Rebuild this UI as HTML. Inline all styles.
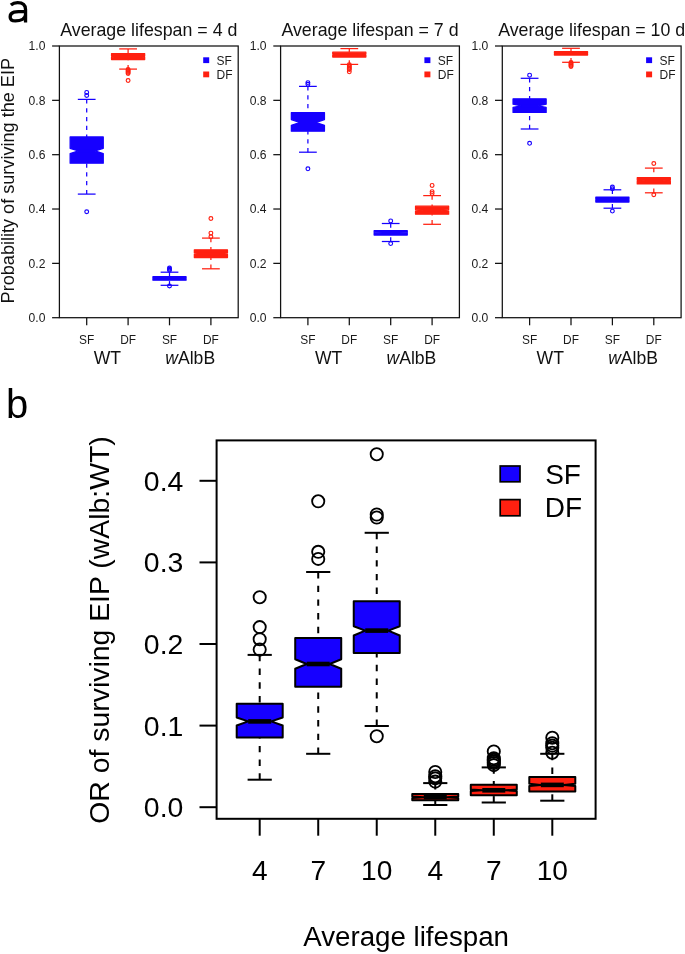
<!DOCTYPE html>
<html><head><meta charset="utf-8"><style>
html,body{margin:0;padding:0;background:#fff;}
svg{display:block;font-family:"Liberation Sans", sans-serif;will-change:transform;}
</style></head><body>
<svg width="685" height="954" viewBox="0 0 685 954">
<rect width="685" height="954" fill="#fff"/>
<path d="M10.9 4.9 C12.6 3.4 14.9 2.55 17.6 2.55 C22.7 2.55 25.55 4.9 25.55 9.5 L25.55 22.5 M25.55 11.3 C20.3 11.3 16.6 11.5 14.0 12.2 C11.2 13.0 10.15 14.9 10.15 16.9 C10.15 19.5 12.3 20.85 15.4 20.85 C20.4 20.85 25.55 18.8 25.55 14.2" fill="none" stroke="#000" stroke-width="3.3"/>
<line x1="86.70" y1="99.40" x2="86.70" y2="136.90" stroke="rgb(22,0,255)" stroke-width="1.25" stroke-dasharray="4.2 4.6"/>
<line x1="86.70" y1="194.10" x2="86.70" y2="163.20" stroke="rgb(22,0,255)" stroke-width="1.25" stroke-dasharray="4.2 4.6"/>
<line x1="77.82" y1="99.40" x2="95.58" y2="99.40" stroke="rgb(22,0,255)" stroke-width="1.25" />
<line x1="77.82" y1="194.10" x2="95.58" y2="194.10" stroke="rgb(22,0,255)" stroke-width="1.25" />
<polygon points="70.14,163.20 103.26,163.20 103.26,153.60 94.98,150.90 103.26,148.30 103.26,136.90 70.14,136.90 70.14,148.30 78.42,150.90 70.14,153.60" fill="rgb(22,0,255)" stroke="rgb(22,0,255)" stroke-width="1.25" stroke-linejoin="round"/>
<line x1="78.42" y1="150.90" x2="94.98" y2="150.90" stroke="rgb(22,0,255)" stroke-width="3.0" />
<circle cx="86.70" cy="92.40" r="1.9" fill="none" stroke="rgb(22,0,255)" stroke-width="1.15"/>
<circle cx="86.70" cy="95.50" r="1.9" fill="none" stroke="rgb(22,0,255)" stroke-width="1.15"/>
<circle cx="86.70" cy="211.70" r="1.9" fill="none" stroke="rgb(22,0,255)" stroke-width="1.15"/>
<line x1="128.10" y1="48.90" x2="128.10" y2="53.60" stroke="rgb(255,32,16)" stroke-width="1.25" stroke-dasharray="4.2 4.6"/>
<line x1="128.10" y1="69.10" x2="128.10" y2="59.60" stroke="rgb(255,32,16)" stroke-width="1.25" stroke-dasharray="4.2 4.6"/>
<line x1="119.22" y1="48.90" x2="136.98" y2="48.90" stroke="rgb(255,32,16)" stroke-width="1.25" />
<line x1="119.22" y1="69.10" x2="136.98" y2="69.10" stroke="rgb(255,32,16)" stroke-width="1.25" />
<polygon points="111.54,59.60 144.66,59.60 144.66,57.20 136.38,56.60 144.66,56.00 144.66,53.60 111.54,53.60 111.54,56.00 119.82,56.60 111.54,57.20" fill="rgb(255,32,16)" stroke="rgb(255,32,16)" stroke-width="1.25" stroke-linejoin="round"/>
<line x1="119.82" y1="56.60" x2="136.38" y2="56.60" stroke="rgb(255,32,16)" stroke-width="3.0" />
<circle cx="128.10" cy="69.50" r="1.9" fill="none" stroke="rgb(255,32,16)" stroke-width="1.15"/>
<circle cx="128.10" cy="70.50" r="1.9" fill="none" stroke="rgb(255,32,16)" stroke-width="1.15"/>
<circle cx="128.10" cy="71.50" r="1.9" fill="none" stroke="rgb(255,32,16)" stroke-width="1.15"/>
<circle cx="128.10" cy="72.50" r="1.9" fill="none" stroke="rgb(255,32,16)" stroke-width="1.15"/>
<circle cx="128.10" cy="73.60" r="1.9" fill="none" stroke="rgb(255,32,16)" stroke-width="1.15"/>
<circle cx="128.10" cy="80.50" r="1.9" fill="none" stroke="rgb(255,32,16)" stroke-width="1.15"/>
<line x1="169.50" y1="272.20" x2="169.50" y2="276.70" stroke="rgb(22,0,255)" stroke-width="1.25" stroke-dasharray="4.2 4.6"/>
<line x1="169.50" y1="285.30" x2="169.50" y2="280.20" stroke="rgb(22,0,255)" stroke-width="1.25" stroke-dasharray="4.2 4.6"/>
<line x1="160.62" y1="272.20" x2="178.38" y2="272.20" stroke="rgb(22,0,255)" stroke-width="1.25" />
<line x1="160.62" y1="285.30" x2="178.38" y2="285.30" stroke="rgb(22,0,255)" stroke-width="1.25" />
<polygon points="152.94,280.20 186.06,280.20 186.06,278.80 177.78,278.50 186.06,278.20 186.06,276.70 152.94,276.70 152.94,278.20 161.22,278.50 152.94,278.80" fill="rgb(22,0,255)" stroke="rgb(22,0,255)" stroke-width="1.25" stroke-linejoin="round"/>
<line x1="161.22" y1="278.50" x2="177.78" y2="278.50" stroke="rgb(22,0,255)" stroke-width="3.0" />
<circle cx="169.50" cy="268.00" r="1.9" fill="none" stroke="rgb(22,0,255)" stroke-width="1.15"/>
<circle cx="169.50" cy="269.30" r="1.9" fill="none" stroke="rgb(22,0,255)" stroke-width="1.15"/>
<circle cx="169.50" cy="270.30" r="1.9" fill="none" stroke="rgb(22,0,255)" stroke-width="1.15"/>
<circle cx="169.50" cy="286.00" r="1.9" fill="none" stroke="rgb(22,0,255)" stroke-width="1.15"/>
<line x1="210.90" y1="238.10" x2="210.90" y2="249.80" stroke="rgb(255,32,16)" stroke-width="1.25" stroke-dasharray="4.2 4.6"/>
<line x1="210.90" y1="268.80" x2="210.90" y2="257.60" stroke="rgb(255,32,16)" stroke-width="1.25" stroke-dasharray="4.2 4.6"/>
<line x1="202.02" y1="238.10" x2="219.78" y2="238.10" stroke="rgb(255,32,16)" stroke-width="1.25" />
<line x1="202.02" y1="268.80" x2="219.78" y2="268.80" stroke="rgb(255,32,16)" stroke-width="1.25" />
<polygon points="194.34,257.60 227.46,257.60 227.46,254.30 219.18,253.60 227.46,252.90 227.46,249.80 194.34,249.80 194.34,252.90 202.62,253.60 194.34,254.30" fill="rgb(255,32,16)" stroke="rgb(255,32,16)" stroke-width="1.25" stroke-linejoin="round"/>
<line x1="202.62" y1="253.60" x2="219.18" y2="253.60" stroke="rgb(255,32,16)" stroke-width="3.0" />
<circle cx="210.90" cy="218.50" r="1.9" fill="none" stroke="rgb(255,32,16)" stroke-width="1.15"/>
<circle cx="210.90" cy="233.10" r="1.9" fill="none" stroke="rgb(255,32,16)" stroke-width="1.15"/>
<circle cx="210.90" cy="236.70" r="1.9" fill="none" stroke="rgb(255,32,16)" stroke-width="1.15"/>
<rect x="59.40" y="46.00" width="178.80" height="271.70" fill="none" stroke="#111" stroke-width="1.25"/>
<line x1="52.10" y1="317.70" x2="59.40" y2="317.70" stroke="#111" stroke-width="1.25" />
<text x="45.40" y="322.10" font-size="12.1" text-anchor="end" fill="#1a1a1a" >0.0</text>
<line x1="52.10" y1="263.36" x2="59.40" y2="263.36" stroke="#111" stroke-width="1.25" />
<text x="45.40" y="267.76" font-size="12.1" text-anchor="end" fill="#1a1a1a" >0.2</text>
<line x1="52.10" y1="209.02" x2="59.40" y2="209.02" stroke="#111" stroke-width="1.25" />
<text x="45.40" y="213.42" font-size="12.1" text-anchor="end" fill="#1a1a1a" >0.4</text>
<line x1="52.10" y1="154.68" x2="59.40" y2="154.68" stroke="#111" stroke-width="1.25" />
<text x="45.40" y="159.08" font-size="12.1" text-anchor="end" fill="#1a1a1a" >0.6</text>
<line x1="52.10" y1="100.34" x2="59.40" y2="100.34" stroke="#111" stroke-width="1.25" />
<text x="45.40" y="104.74" font-size="12.1" text-anchor="end" fill="#1a1a1a" >0.8</text>
<line x1="52.10" y1="46.00" x2="59.40" y2="46.00" stroke="#111" stroke-width="1.25" />
<text x="45.40" y="50.40" font-size="12.1" text-anchor="end" fill="#1a1a1a" >1.0</text>
<line x1="86.70" y1="317.70" x2="86.70" y2="325.30" stroke="#111" stroke-width="1.25" />
<text x="86.70" y="343.80" font-size="11.9" text-anchor="middle" fill="#1a1a1a" >SF</text>
<line x1="128.10" y1="317.70" x2="128.10" y2="325.30" stroke="#111" stroke-width="1.25" />
<text x="128.10" y="343.80" font-size="11.9" text-anchor="middle" fill="#1a1a1a" >DF</text>
<line x1="169.50" y1="317.70" x2="169.50" y2="325.30" stroke="#111" stroke-width="1.25" />
<text x="169.50" y="343.80" font-size="11.9" text-anchor="middle" fill="#1a1a1a" >SF</text>
<line x1="210.90" y1="317.70" x2="210.90" y2="325.30" stroke="#111" stroke-width="1.25" />
<text x="210.90" y="343.80" font-size="11.9" text-anchor="middle" fill="#1a1a1a" >DF</text>
<text x="107.40" y="363.80" font-size="17.6" text-anchor="middle" fill="#111" >WT</text>
<text x="190.20" y="363.80" font-size="17.6" text-anchor="middle" fill="#111" ><tspan font-style="italic">w</tspan>AlbB</text>
<text x="148.80" y="35.80" font-size="17.8" text-anchor="middle" fill="#111" >Average lifespan = 4 d</text>
<rect x="203.20" y="57.3" width="6" height="5.8" fill="rgb(22,0,255)"/>
<rect x="203.20" y="71.5" width="6" height="5.8" fill="rgb(255,32,16)"/>
<text x="216.60" y="64.60" font-size="12.0" text-anchor="start" fill="#1a1a1a" >SF</text>
<text x="216.60" y="78.80" font-size="12.0" text-anchor="start" fill="#1a1a1a" >DF</text>
<line x1="307.90" y1="86.40" x2="307.90" y2="112.60" stroke="rgb(22,0,255)" stroke-width="1.25" stroke-dasharray="4.2 4.6"/>
<line x1="307.90" y1="152.20" x2="307.90" y2="131.20" stroke="rgb(22,0,255)" stroke-width="1.25" stroke-dasharray="4.2 4.6"/>
<line x1="299.02" y1="86.40" x2="316.78" y2="86.40" stroke="rgb(22,0,255)" stroke-width="1.25" />
<line x1="299.02" y1="152.20" x2="316.78" y2="152.20" stroke="rgb(22,0,255)" stroke-width="1.25" />
<polygon points="291.34,131.20 324.46,131.20 324.46,125.30 316.18,122.50 324.46,119.60 324.46,112.60 291.34,112.60 291.34,119.60 299.62,122.50 291.34,125.30" fill="rgb(22,0,255)" stroke="rgb(22,0,255)" stroke-width="1.25" stroke-linejoin="round"/>
<line x1="299.62" y1="122.50" x2="316.18" y2="122.50" stroke="rgb(22,0,255)" stroke-width="3.0" />
<circle cx="307.90" cy="82.60" r="1.9" fill="none" stroke="rgb(22,0,255)" stroke-width="1.15"/>
<circle cx="307.90" cy="84.30" r="1.9" fill="none" stroke="rgb(22,0,255)" stroke-width="1.15"/>
<circle cx="307.90" cy="168.80" r="1.9" fill="none" stroke="rgb(22,0,255)" stroke-width="1.15"/>
<line x1="349.30" y1="48.60" x2="349.30" y2="52.20" stroke="rgb(255,32,16)" stroke-width="1.25" stroke-dasharray="4.2 4.6"/>
<line x1="349.30" y1="64.40" x2="349.30" y2="57.10" stroke="rgb(255,32,16)" stroke-width="1.25" stroke-dasharray="4.2 4.6"/>
<line x1="340.42" y1="48.60" x2="358.18" y2="48.60" stroke="rgb(255,32,16)" stroke-width="1.25" />
<line x1="340.42" y1="64.40" x2="358.18" y2="64.40" stroke="rgb(255,32,16)" stroke-width="1.25" />
<polygon points="332.74,57.10 365.86,57.10 365.86,55.10 357.58,54.60 365.86,54.10 365.86,52.20 332.74,52.20 332.74,54.10 341.02,54.60 332.74,55.10" fill="rgb(255,32,16)" stroke="rgb(255,32,16)" stroke-width="1.25" stroke-linejoin="round"/>
<line x1="341.02" y1="54.60" x2="357.58" y2="54.60" stroke="rgb(255,32,16)" stroke-width="3.0" />
<circle cx="349.30" cy="64.80" r="1.9" fill="none" stroke="rgb(255,32,16)" stroke-width="1.15"/>
<circle cx="349.30" cy="66.00" r="1.9" fill="none" stroke="rgb(255,32,16)" stroke-width="1.15"/>
<circle cx="349.30" cy="67.20" r="1.9" fill="none" stroke="rgb(255,32,16)" stroke-width="1.15"/>
<circle cx="349.30" cy="68.40" r="1.9" fill="none" stroke="rgb(255,32,16)" stroke-width="1.15"/>
<circle cx="349.30" cy="69.60" r="1.9" fill="none" stroke="rgb(255,32,16)" stroke-width="1.15"/>
<circle cx="349.30" cy="71.80" r="1.9" fill="none" stroke="rgb(255,32,16)" stroke-width="1.15"/>
<line x1="390.70" y1="223.50" x2="390.70" y2="230.70" stroke="rgb(22,0,255)" stroke-width="1.25" stroke-dasharray="4.2 4.6"/>
<line x1="390.70" y1="241.50" x2="390.70" y2="235.10" stroke="rgb(22,0,255)" stroke-width="1.25" stroke-dasharray="4.2 4.6"/>
<line x1="381.82" y1="223.50" x2="399.58" y2="223.50" stroke="rgb(22,0,255)" stroke-width="1.25" />
<line x1="381.82" y1="241.50" x2="399.58" y2="241.50" stroke="rgb(22,0,255)" stroke-width="1.25" />
<polygon points="374.14,235.10 407.26,235.10 407.26,233.30 398.98,232.90 407.26,232.50 407.26,230.70 374.14,230.70 374.14,232.50 382.42,232.90 374.14,233.30" fill="rgb(22,0,255)" stroke="rgb(22,0,255)" stroke-width="1.25" stroke-linejoin="round"/>
<line x1="382.42" y1="232.90" x2="398.98" y2="232.90" stroke="rgb(22,0,255)" stroke-width="3.0" />
<circle cx="390.70" cy="220.90" r="1.9" fill="none" stroke="rgb(22,0,255)" stroke-width="1.15"/>
<circle cx="390.70" cy="243.60" r="1.9" fill="none" stroke="rgb(22,0,255)" stroke-width="1.15"/>
<line x1="432.10" y1="195.60" x2="432.10" y2="206.20" stroke="rgb(255,32,16)" stroke-width="1.25" stroke-dasharray="4.2 4.6"/>
<line x1="432.10" y1="224.30" x2="432.10" y2="214.20" stroke="rgb(255,32,16)" stroke-width="1.25" stroke-dasharray="4.2 4.6"/>
<line x1="423.22" y1="195.60" x2="440.98" y2="195.60" stroke="rgb(255,32,16)" stroke-width="1.25" />
<line x1="423.22" y1="224.30" x2="440.98" y2="224.30" stroke="rgb(255,32,16)" stroke-width="1.25" />
<polygon points="415.54,214.20 448.66,214.20 448.66,210.90 440.38,210.20 448.66,209.50 448.66,206.20 415.54,206.20 415.54,209.50 423.82,210.20 415.54,210.90" fill="rgb(255,32,16)" stroke="rgb(255,32,16)" stroke-width="1.25" stroke-linejoin="round"/>
<line x1="423.82" y1="210.20" x2="440.38" y2="210.20" stroke="rgb(255,32,16)" stroke-width="3.0" />
<circle cx="432.10" cy="185.40" r="1.9" fill="none" stroke="rgb(255,32,16)" stroke-width="1.15"/>
<circle cx="432.10" cy="191.60" r="1.9" fill="none" stroke="rgb(255,32,16)" stroke-width="1.15"/>
<circle cx="432.10" cy="193.40" r="1.9" fill="none" stroke="rgb(255,32,16)" stroke-width="1.15"/>
<rect x="280.60" y="46.00" width="178.80" height="271.70" fill="none" stroke="#111" stroke-width="1.25"/>
<line x1="273.30" y1="317.70" x2="280.60" y2="317.70" stroke="#111" stroke-width="1.25" />
<text x="266.60" y="322.10" font-size="12.1" text-anchor="end" fill="#1a1a1a" >0.0</text>
<line x1="273.30" y1="263.36" x2="280.60" y2="263.36" stroke="#111" stroke-width="1.25" />
<text x="266.60" y="267.76" font-size="12.1" text-anchor="end" fill="#1a1a1a" >0.2</text>
<line x1="273.30" y1="209.02" x2="280.60" y2="209.02" stroke="#111" stroke-width="1.25" />
<text x="266.60" y="213.42" font-size="12.1" text-anchor="end" fill="#1a1a1a" >0.4</text>
<line x1="273.30" y1="154.68" x2="280.60" y2="154.68" stroke="#111" stroke-width="1.25" />
<text x="266.60" y="159.08" font-size="12.1" text-anchor="end" fill="#1a1a1a" >0.6</text>
<line x1="273.30" y1="100.34" x2="280.60" y2="100.34" stroke="#111" stroke-width="1.25" />
<text x="266.60" y="104.74" font-size="12.1" text-anchor="end" fill="#1a1a1a" >0.8</text>
<line x1="273.30" y1="46.00" x2="280.60" y2="46.00" stroke="#111" stroke-width="1.25" />
<text x="266.60" y="50.40" font-size="12.1" text-anchor="end" fill="#1a1a1a" >1.0</text>
<line x1="307.90" y1="317.70" x2="307.90" y2="325.30" stroke="#111" stroke-width="1.25" />
<text x="307.90" y="343.80" font-size="11.9" text-anchor="middle" fill="#1a1a1a" >SF</text>
<line x1="349.30" y1="317.70" x2="349.30" y2="325.30" stroke="#111" stroke-width="1.25" />
<text x="349.30" y="343.80" font-size="11.9" text-anchor="middle" fill="#1a1a1a" >DF</text>
<line x1="390.70" y1="317.70" x2="390.70" y2="325.30" stroke="#111" stroke-width="1.25" />
<text x="390.70" y="343.80" font-size="11.9" text-anchor="middle" fill="#1a1a1a" >SF</text>
<line x1="432.10" y1="317.70" x2="432.10" y2="325.30" stroke="#111" stroke-width="1.25" />
<text x="432.10" y="343.80" font-size="11.9" text-anchor="middle" fill="#1a1a1a" >DF</text>
<text x="328.60" y="363.80" font-size="17.6" text-anchor="middle" fill="#111" >WT</text>
<text x="411.40" y="363.80" font-size="17.6" text-anchor="middle" fill="#111" ><tspan font-style="italic">w</tspan>AlbB</text>
<text x="370.00" y="35.80" font-size="17.8" text-anchor="middle" fill="#111" >Average lifespan = 7 d</text>
<rect x="424.40" y="57.3" width="6" height="5.8" fill="rgb(22,0,255)"/>
<rect x="424.40" y="71.5" width="6" height="5.8" fill="rgb(255,32,16)"/>
<text x="437.80" y="64.60" font-size="12.0" text-anchor="start" fill="#1a1a1a" >SF</text>
<text x="437.80" y="78.80" font-size="12.0" text-anchor="start" fill="#1a1a1a" >DF</text>
<line x1="529.60" y1="78.30" x2="529.60" y2="98.80" stroke="rgb(22,0,255)" stroke-width="1.25" stroke-dasharray="4.2 4.6"/>
<line x1="529.60" y1="129.00" x2="529.60" y2="112.40" stroke="rgb(22,0,255)" stroke-width="1.25" stroke-dasharray="4.2 4.6"/>
<line x1="520.72" y1="78.30" x2="538.48" y2="78.30" stroke="rgb(22,0,255)" stroke-width="1.25" />
<line x1="520.72" y1="129.00" x2="538.48" y2="129.00" stroke="rgb(22,0,255)" stroke-width="1.25" />
<polygon points="513.04,112.40 546.16,112.40 546.16,107.40 537.88,105.80 546.16,104.20 546.16,98.80 513.04,98.80 513.04,104.20 521.32,105.80 513.04,107.40" fill="rgb(22,0,255)" stroke="rgb(22,0,255)" stroke-width="1.25" stroke-linejoin="round"/>
<line x1="521.32" y1="105.80" x2="537.88" y2="105.80" stroke="rgb(22,0,255)" stroke-width="3.0" />
<circle cx="529.60" cy="75.20" r="1.9" fill="none" stroke="rgb(22,0,255)" stroke-width="1.15"/>
<circle cx="529.60" cy="143.30" r="1.9" fill="none" stroke="rgb(22,0,255)" stroke-width="1.15"/>
<line x1="571.00" y1="48.30" x2="571.00" y2="51.70" stroke="rgb(255,32,16)" stroke-width="1.25" stroke-dasharray="4.2 4.6"/>
<line x1="571.00" y1="62.30" x2="571.00" y2="55.10" stroke="rgb(255,32,16)" stroke-width="1.25" stroke-dasharray="4.2 4.6"/>
<line x1="562.12" y1="48.30" x2="579.88" y2="48.30" stroke="rgb(255,32,16)" stroke-width="1.25" />
<line x1="562.12" y1="62.30" x2="579.88" y2="62.30" stroke="rgb(255,32,16)" stroke-width="1.25" />
<polygon points="554.44,55.10 587.56,55.10 587.56,53.80 579.28,53.40 587.56,53.00 587.56,51.70 554.44,51.70 554.44,53.00 562.72,53.40 554.44,53.80" fill="rgb(255,32,16)" stroke="rgb(255,32,16)" stroke-width="1.25" stroke-linejoin="round"/>
<line x1="562.72" y1="53.40" x2="579.28" y2="53.40" stroke="rgb(255,32,16)" stroke-width="3.0" />
<circle cx="571.00" cy="62.60" r="1.9" fill="none" stroke="rgb(255,32,16)" stroke-width="1.15"/>
<circle cx="571.00" cy="63.60" r="1.9" fill="none" stroke="rgb(255,32,16)" stroke-width="1.15"/>
<circle cx="571.00" cy="64.60" r="1.9" fill="none" stroke="rgb(255,32,16)" stroke-width="1.15"/>
<circle cx="571.00" cy="65.60" r="1.9" fill="none" stroke="rgb(255,32,16)" stroke-width="1.15"/>
<circle cx="571.00" cy="66.40" r="1.9" fill="none" stroke="rgb(255,32,16)" stroke-width="1.15"/>
<line x1="612.40" y1="189.80" x2="612.40" y2="197.10" stroke="rgb(22,0,255)" stroke-width="1.25" stroke-dasharray="4.2 4.6"/>
<line x1="612.40" y1="208.20" x2="612.40" y2="202.10" stroke="rgb(22,0,255)" stroke-width="1.25" stroke-dasharray="4.2 4.6"/>
<line x1="603.52" y1="189.80" x2="621.28" y2="189.80" stroke="rgb(22,0,255)" stroke-width="1.25" />
<line x1="603.52" y1="208.20" x2="621.28" y2="208.20" stroke="rgb(22,0,255)" stroke-width="1.25" />
<polygon points="595.84,202.10 628.96,202.10 628.96,200.00 620.68,199.60 628.96,199.20 628.96,197.10 595.84,197.10 595.84,199.20 604.12,199.60 595.84,200.00" fill="rgb(22,0,255)" stroke="rgb(22,0,255)" stroke-width="1.25" stroke-linejoin="round"/>
<line x1="604.12" y1="199.60" x2="620.68" y2="199.60" stroke="rgb(22,0,255)" stroke-width="3.0" />
<circle cx="612.40" cy="187.00" r="1.9" fill="none" stroke="rgb(22,0,255)" stroke-width="1.15"/>
<circle cx="612.40" cy="188.80" r="1.9" fill="none" stroke="rgb(22,0,255)" stroke-width="1.15"/>
<circle cx="612.40" cy="211.10" r="1.9" fill="none" stroke="rgb(22,0,255)" stroke-width="1.15"/>
<line x1="653.80" y1="168.10" x2="653.80" y2="177.70" stroke="rgb(255,32,16)" stroke-width="1.25" stroke-dasharray="4.2 4.6"/>
<line x1="653.80" y1="192.80" x2="653.80" y2="183.90" stroke="rgb(255,32,16)" stroke-width="1.25" stroke-dasharray="4.2 4.6"/>
<line x1="644.92" y1="168.10" x2="662.68" y2="168.10" stroke="rgb(255,32,16)" stroke-width="1.25" />
<line x1="644.92" y1="192.80" x2="662.68" y2="192.80" stroke="rgb(255,32,16)" stroke-width="1.25" />
<polygon points="637.24,183.90 670.36,183.90 670.36,181.30 662.08,180.80 670.36,180.30 670.36,177.70 637.24,177.70 637.24,180.30 645.52,180.80 637.24,181.30" fill="rgb(255,32,16)" stroke="rgb(255,32,16)" stroke-width="1.25" stroke-linejoin="round"/>
<line x1="645.52" y1="180.80" x2="662.08" y2="180.80" stroke="rgb(255,32,16)" stroke-width="3.0" />
<circle cx="653.80" cy="163.50" r="1.9" fill="none" stroke="rgb(255,32,16)" stroke-width="1.15"/>
<circle cx="653.80" cy="194.70" r="1.9" fill="none" stroke="rgb(255,32,16)" stroke-width="1.15"/>
<rect x="502.30" y="46.00" width="178.80" height="271.70" fill="none" stroke="#111" stroke-width="1.25"/>
<line x1="495.00" y1="317.70" x2="502.30" y2="317.70" stroke="#111" stroke-width="1.25" />
<text x="488.30" y="322.10" font-size="12.1" text-anchor="end" fill="#1a1a1a" >0.0</text>
<line x1="495.00" y1="263.36" x2="502.30" y2="263.36" stroke="#111" stroke-width="1.25" />
<text x="488.30" y="267.76" font-size="12.1" text-anchor="end" fill="#1a1a1a" >0.2</text>
<line x1="495.00" y1="209.02" x2="502.30" y2="209.02" stroke="#111" stroke-width="1.25" />
<text x="488.30" y="213.42" font-size="12.1" text-anchor="end" fill="#1a1a1a" >0.4</text>
<line x1="495.00" y1="154.68" x2="502.30" y2="154.68" stroke="#111" stroke-width="1.25" />
<text x="488.30" y="159.08" font-size="12.1" text-anchor="end" fill="#1a1a1a" >0.6</text>
<line x1="495.00" y1="100.34" x2="502.30" y2="100.34" stroke="#111" stroke-width="1.25" />
<text x="488.30" y="104.74" font-size="12.1" text-anchor="end" fill="#1a1a1a" >0.8</text>
<line x1="495.00" y1="46.00" x2="502.30" y2="46.00" stroke="#111" stroke-width="1.25" />
<text x="488.30" y="50.40" font-size="12.1" text-anchor="end" fill="#1a1a1a" >1.0</text>
<line x1="529.60" y1="317.70" x2="529.60" y2="325.30" stroke="#111" stroke-width="1.25" />
<text x="529.60" y="343.80" font-size="11.9" text-anchor="middle" fill="#1a1a1a" >SF</text>
<line x1="571.00" y1="317.70" x2="571.00" y2="325.30" stroke="#111" stroke-width="1.25" />
<text x="571.00" y="343.80" font-size="11.9" text-anchor="middle" fill="#1a1a1a" >DF</text>
<line x1="612.40" y1="317.70" x2="612.40" y2="325.30" stroke="#111" stroke-width="1.25" />
<text x="612.40" y="343.80" font-size="11.9" text-anchor="middle" fill="#1a1a1a" >SF</text>
<line x1="653.80" y1="317.70" x2="653.80" y2="325.30" stroke="#111" stroke-width="1.25" />
<text x="653.80" y="343.80" font-size="11.9" text-anchor="middle" fill="#1a1a1a" >DF</text>
<text x="550.30" y="363.80" font-size="17.6" text-anchor="middle" fill="#111" >WT</text>
<text x="633.10" y="363.80" font-size="17.6" text-anchor="middle" fill="#111" ><tspan font-style="italic">w</tspan>AlbB</text>
<text x="591.70" y="35.80" font-size="17.8" text-anchor="middle" fill="#111" >Average lifespan = 10 d</text>
<rect x="646.10" y="57.3" width="6" height="5.8" fill="rgb(22,0,255)"/>
<rect x="646.10" y="71.5" width="6" height="5.8" fill="rgb(255,32,16)"/>
<text x="659.50" y="64.60" font-size="12.0" text-anchor="start" fill="#1a1a1a" >SF</text>
<text x="659.50" y="78.80" font-size="12.0" text-anchor="start" fill="#1a1a1a" >DF</text>
<text transform="translate(13.6,180.7) rotate(-90)" font-size="18.1" text-anchor="middle" fill="#111">Probability of surviving the EIP</text>
<text x="6.00" y="418.20" font-size="40" text-anchor="start" fill="#000" >b</text>
<line x1="259.70" y1="654.90" x2="259.70" y2="703.80" stroke="#000" stroke-width="2.0" stroke-dasharray="6.4 7.3"/>
<line x1="259.70" y1="779.70" x2="259.70" y2="737.60" stroke="#000" stroke-width="2.0" stroke-dasharray="6.4 7.3"/>
<line x1="247.60" y1="654.90" x2="271.80" y2="654.90" stroke="#000" stroke-width="2.0" />
<line x1="247.60" y1="779.70" x2="271.80" y2="779.70" stroke="#000" stroke-width="2.0" />
<polygon points="236.70,737.60 282.70,737.60 282.70,725.50 271.20,721.40 282.70,717.50 282.70,703.80 236.70,703.80 236.70,717.50 248.20,721.40 236.70,725.50" fill="rgb(22,0,255)" stroke="#000" stroke-width="2.0" stroke-linejoin="round"/>
<line x1="248.20" y1="721.40" x2="271.20" y2="721.40" stroke="#000" stroke-width="4.6" />
<circle cx="259.70" cy="597.20" r="6.1" fill="none" stroke="#000" stroke-width="1.85"/>
<circle cx="259.70" cy="627.10" r="6.1" fill="none" stroke="#000" stroke-width="1.85"/>
<circle cx="259.70" cy="639.20" r="6.1" fill="none" stroke="#000" stroke-width="1.85"/>
<circle cx="259.70" cy="649.60" r="6.1" fill="none" stroke="#000" stroke-width="1.85"/>
<line x1="318.22" y1="572.00" x2="318.22" y2="638.00" stroke="#000" stroke-width="2.0" stroke-dasharray="6.4 7.3"/>
<line x1="318.22" y1="753.80" x2="318.22" y2="686.80" stroke="#000" stroke-width="2.0" stroke-dasharray="6.4 7.3"/>
<line x1="306.12" y1="572.00" x2="330.32" y2="572.00" stroke="#000" stroke-width="2.0" />
<line x1="306.12" y1="753.80" x2="330.32" y2="753.80" stroke="#000" stroke-width="2.0" />
<polygon points="295.22,686.80 341.22,686.80 341.22,668.70 329.72,664.00 341.22,659.30 341.22,638.00 295.22,638.00 295.22,659.30 306.72,664.00 295.22,668.70" fill="rgb(22,0,255)" stroke="#000" stroke-width="2.0" stroke-linejoin="round"/>
<line x1="306.72" y1="664.00" x2="329.72" y2="664.00" stroke="#000" stroke-width="4.6" />
<circle cx="318.22" cy="501.30" r="6.1" fill="none" stroke="#000" stroke-width="1.85"/>
<circle cx="318.22" cy="551.80" r="6.1" fill="none" stroke="#000" stroke-width="1.85"/>
<circle cx="318.22" cy="558.90" r="6.1" fill="none" stroke="#000" stroke-width="1.85"/>
<line x1="376.74" y1="532.80" x2="376.74" y2="601.30" stroke="#000" stroke-width="2.0" stroke-dasharray="6.4 7.3"/>
<line x1="376.74" y1="726.00" x2="376.74" y2="653.00" stroke="#000" stroke-width="2.0" stroke-dasharray="6.4 7.3"/>
<line x1="364.64" y1="532.80" x2="388.84" y2="532.80" stroke="#000" stroke-width="2.0" />
<line x1="364.64" y1="726.00" x2="388.84" y2="726.00" stroke="#000" stroke-width="2.0" />
<polygon points="353.74,653.00 399.74,653.00 399.74,635.50 388.24,630.60 399.74,626.20 399.74,601.30 353.74,601.30 353.74,626.20 365.24,630.60 353.74,635.50" fill="rgb(22,0,255)" stroke="#000" stroke-width="2.0" stroke-linejoin="round"/>
<line x1="365.24" y1="630.60" x2="388.24" y2="630.60" stroke="#000" stroke-width="4.6" />
<circle cx="376.74" cy="454.20" r="6.1" fill="none" stroke="#000" stroke-width="1.85"/>
<circle cx="376.74" cy="514.50" r="6.1" fill="none" stroke="#000" stroke-width="1.85"/>
<circle cx="376.74" cy="517.50" r="6.1" fill="none" stroke="#000" stroke-width="1.85"/>
<circle cx="376.74" cy="736.20" r="6.1" fill="none" stroke="#000" stroke-width="1.85"/>
<line x1="435.26" y1="783.10" x2="435.26" y2="793.90" stroke="#000" stroke-width="2.0" stroke-dasharray="6.4 7.3"/>
<line x1="435.26" y1="805.00" x2="435.26" y2="800.20" stroke="#000" stroke-width="2.0" stroke-dasharray="6.4 7.3"/>
<line x1="423.16" y1="783.10" x2="447.36" y2="783.10" stroke="#000" stroke-width="2.0" />
<line x1="423.16" y1="805.00" x2="447.36" y2="805.00" stroke="#000" stroke-width="2.0" />
<polygon points="412.26,800.20 458.26,800.20 458.26,798.10 446.76,797.20 458.26,796.40 458.26,793.90 412.26,793.90 412.26,796.40 423.76,797.20 412.26,798.10" fill="rgb(255,32,16)" stroke="#000" stroke-width="2.0" stroke-linejoin="round"/>
<line x1="423.76" y1="797.20" x2="446.76" y2="797.20" stroke="#000" stroke-width="4.6" />
<circle cx="435.26" cy="772.00" r="6.1" fill="none" stroke="#000" stroke-width="1.85"/>
<circle cx="435.26" cy="776.20" r="6.1" fill="none" stroke="#000" stroke-width="1.85"/>
<circle cx="435.26" cy="778.30" r="6.1" fill="none" stroke="#000" stroke-width="1.85"/>
<circle cx="435.26" cy="781.60" r="6.1" fill="none" stroke="#000" stroke-width="1.85"/>
<line x1="493.78" y1="767.40" x2="493.78" y2="784.70" stroke="#000" stroke-width="2.0" stroke-dasharray="6.4 7.3"/>
<line x1="493.78" y1="802.50" x2="493.78" y2="795.20" stroke="#000" stroke-width="2.0" stroke-dasharray="6.4 7.3"/>
<line x1="481.68" y1="767.40" x2="505.88" y2="767.40" stroke="#000" stroke-width="2.0" />
<line x1="481.68" y1="802.50" x2="505.88" y2="802.50" stroke="#000" stroke-width="2.0" />
<polygon points="470.78,795.20 516.78,795.20 516.78,791.00 505.28,790.30 516.78,789.60 516.78,784.70 470.78,784.70 470.78,789.60 482.28,790.30 470.78,791.00" fill="rgb(255,32,16)" stroke="#000" stroke-width="2.0" stroke-linejoin="round"/>
<line x1="482.28" y1="790.30" x2="505.28" y2="790.30" stroke="#000" stroke-width="4.6" />
<circle cx="493.78" cy="751.50" r="6.1" fill="none" stroke="#000" stroke-width="1.85"/>
<circle cx="493.78" cy="758.30" r="6.1" fill="none" stroke="#000" stroke-width="1.85"/>
<circle cx="493.78" cy="759.80" r="6.1" fill="none" stroke="#000" stroke-width="1.85"/>
<circle cx="493.78" cy="761.30" r="6.1" fill="none" stroke="#000" stroke-width="1.85"/>
<circle cx="493.78" cy="763.00" r="6.1" fill="none" stroke="#000" stroke-width="1.85"/>
<circle cx="493.78" cy="765.10" r="6.1" fill="none" stroke="#000" stroke-width="1.85"/>
<line x1="552.30" y1="753.80" x2="552.30" y2="777.10" stroke="#000" stroke-width="2.0" stroke-dasharray="6.4 7.3"/>
<line x1="552.30" y1="800.70" x2="552.30" y2="791.40" stroke="#000" stroke-width="2.0" stroke-dasharray="6.4 7.3"/>
<line x1="540.20" y1="753.80" x2="564.40" y2="753.80" stroke="#000" stroke-width="2.0" />
<line x1="540.20" y1="800.70" x2="564.40" y2="800.70" stroke="#000" stroke-width="2.0" />
<polygon points="529.30,791.40 575.30,791.40 575.30,786.00 563.80,784.90 575.30,783.80 575.30,777.10 529.30,777.10 529.30,783.80 540.80,784.90 529.30,786.00" fill="rgb(255,32,16)" stroke="#000" stroke-width="2.0" stroke-linejoin="round"/>
<line x1="540.80" y1="784.90" x2="563.80" y2="784.90" stroke="#000" stroke-width="4.6" />
<circle cx="552.30" cy="737.70" r="6.1" fill="none" stroke="#000" stroke-width="1.85"/>
<circle cx="552.30" cy="743.20" r="6.1" fill="none" stroke="#000" stroke-width="1.85"/>
<circle cx="552.30" cy="745.60" r="6.1" fill="none" stroke="#000" stroke-width="1.85"/>
<circle cx="552.30" cy="747.80" r="6.1" fill="none" stroke="#000" stroke-width="1.85"/>
<circle cx="552.30" cy="752.70" r="6.1" fill="none" stroke="#000" stroke-width="1.85"/>
<rect x="216.6" y="440.4" width="379.00" height="378.40" fill="none" stroke="#000" stroke-width="2.0"/>
<line x1="199.50" y1="807.20" x2="216.60" y2="807.20" stroke="#000" stroke-width="2.0" />
<text x="183.34" y="817.10" font-size="28.4" text-anchor="end" fill="#000" >0.0</text>
<line x1="199.50" y1="725.60" x2="216.60" y2="725.60" stroke="#000" stroke-width="2.0" />
<text x="183.34" y="735.50" font-size="28.4" text-anchor="end" fill="#000" >0.1</text>
<line x1="199.50" y1="644.00" x2="216.60" y2="644.00" stroke="#000" stroke-width="2.0" />
<text x="183.34" y="653.90" font-size="28.4" text-anchor="end" fill="#000" >0.2</text>
<line x1="199.50" y1="562.40" x2="216.60" y2="562.40" stroke="#000" stroke-width="2.0" />
<text x="183.34" y="572.30" font-size="28.4" text-anchor="end" fill="#000" >0.3</text>
<line x1="199.50" y1="480.80" x2="216.60" y2="480.80" stroke="#000" stroke-width="2.0" />
<text x="183.34" y="490.70" font-size="28.4" text-anchor="end" fill="#000" >0.4</text>
<line x1="259.70" y1="818.80" x2="259.70" y2="835.70" stroke="#000" stroke-width="2.0" />
<text x="259.70" y="879.90" font-size="28.1" text-anchor="middle" fill="#000" >4</text>
<line x1="318.22" y1="818.80" x2="318.22" y2="835.70" stroke="#000" stroke-width="2.0" />
<text x="318.22" y="879.90" font-size="28.1" text-anchor="middle" fill="#000" >7</text>
<line x1="376.74" y1="818.80" x2="376.74" y2="835.70" stroke="#000" stroke-width="2.0" />
<text x="376.74" y="879.90" font-size="28.1" text-anchor="middle" fill="#000" >10</text>
<line x1="435.26" y1="818.80" x2="435.26" y2="835.70" stroke="#000" stroke-width="2.0" />
<text x="435.26" y="879.90" font-size="28.1" text-anchor="middle" fill="#000" >4</text>
<line x1="493.78" y1="818.80" x2="493.78" y2="835.70" stroke="#000" stroke-width="2.0" />
<text x="493.78" y="879.90" font-size="28.1" text-anchor="middle" fill="#000" >7</text>
<line x1="552.30" y1="818.80" x2="552.30" y2="835.70" stroke="#000" stroke-width="2.0" />
<text x="552.30" y="879.90" font-size="28.1" text-anchor="middle" fill="#000" >10</text>
<text x="406.10" y="946.40" font-size="27.7" text-anchor="middle" fill="#000" >Average lifespan</text>
<text transform="translate(108.6,630.0) rotate(-90)" font-size="28.4" text-anchor="middle">OR of surviving EIP (wAlb:WT)</text>
<rect x="500.2" y="466.0" width="19.8" height="15.8" fill="rgb(22,0,255)" stroke="#000" stroke-width="1.7"/>
<rect x="500.2" y="499.6" width="19.8" height="16.2" fill="rgb(255,32,16)" stroke="#000" stroke-width="1.7"/>
<text x="545.20" y="484.00" font-size="28.0" text-anchor="start" fill="#000" >SF</text>
<text x="544.86" y="517.40" font-size="28.0" text-anchor="start" fill="#000" >DF</text>
</svg>
</body></html>
